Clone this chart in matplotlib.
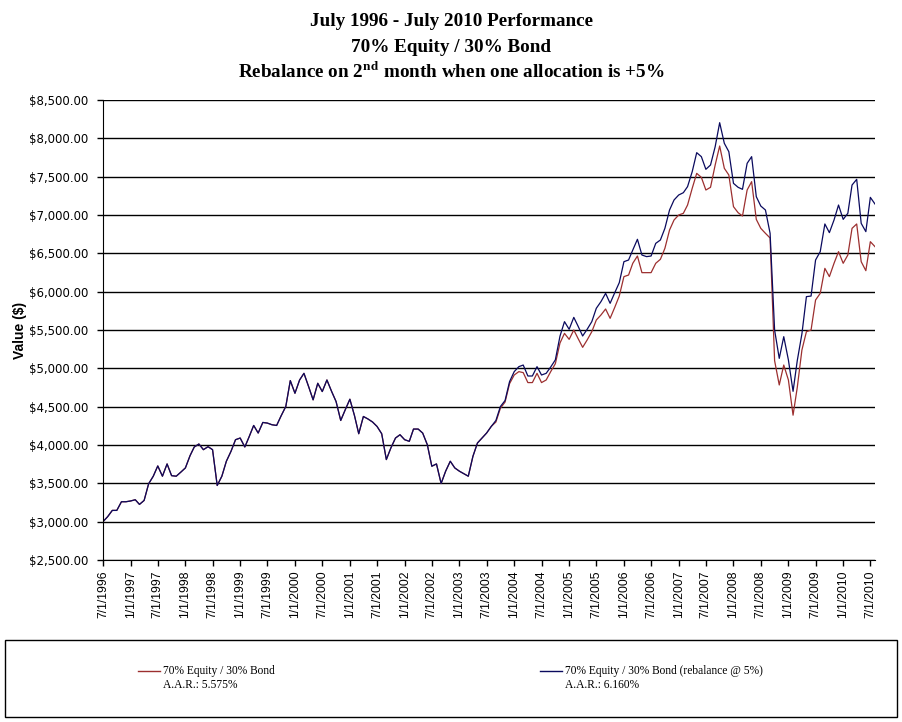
import matplotlib
matplotlib.use("Agg")
import matplotlib.pyplot as plt
from matplotlib.lines import Line2D
from matplotlib.patches import Rectangle
import numpy as np
import pandas as pd

# monthly values, 7/1/1996 onwards
rebalanced = [
    3000, 3065, 3147, 3147, 3260, 3260, 3270, 3286, 3225, 3277,
    3494, 3593, 3727, 3593, 3753, 3600, 3593, 3645, 3701, 3861,
    3974, 4013, 3939, 3978, 3939, 3472, 3593, 3788, 3918, 4069,
    4091, 3974, 4104, 4255, 4156, 4294, 4286, 4264, 4255, 4381,
    4502, 4840, 4675, 4848, 4935, 4762, 4589, 4805, 4697, 4848,
    4700, 4567, 4320, 4459, 4597, 4381, 4147, 4372, 4340, 4300,
    4242, 4147, 3810, 3961, 4091, 4134, 4069, 4048, 4208, 4208,
    4156, 4004, 3723, 3753, 3498, 3658, 3788, 3701, 3658, 3623,
    3593, 3853, 4026, 4091, 4156, 4242, 4320, 4502, 4580, 4827,
    4957, 5022, 5043, 4900, 4900, 5022, 4913, 4935, 5020, 5110,
    5420, 5609, 5509, 5665, 5552, 5422, 5509, 5609, 5783, 5870,
    5978, 5848, 5987, 6117, 6391, 6413, 6543, 6683, 6478, 6457,
    6465, 6630, 6674, 6826, 7065, 7196, 7261, 7291, 7370, 7565,
    7813, 7761, 7596, 7652, 7891, 8204, 7935, 7826, 7413, 7361,
    7335, 7674, 7761, 7239, 7117, 7065, 6761, 5500, 5130, 5413,
    5109, 4700, 5100, 5450, 5935, 5943, 6413, 6522, 6883, 6770,
    6935, 7130, 6943, 7022, 7391, 7465, 6891, 6783, 7230, 7143,
]

no_rebalance = rebalanced[:86] + [
    4300, 4480, 4560, 4800,
    4913, 4957, 4944, 4814, 4814, 4935, 4814, 4848, 4960, 5060,
    5330, 5456, 5378, 5500, 5391, 5274, 5370, 5478, 5630, 5696,
    5774, 5652, 5796, 5943, 6196, 6217, 6370, 6465, 6248, 6248,
    6248, 6370, 6422, 6565, 6804, 6935, 7000, 7022, 7130, 7348,
    7543, 7491, 7326, 7361, 7652, 7900, 7609, 7522, 7109, 7030,
    6987, 7326, 7435, 6943, 6826, 6761, 6700, 5100, 4783, 5043,
    4848, 4389, 4750, 5239, 5478, 5500, 5891, 5978, 6304, 6196,
    6370, 6522, 6370, 6478, 6826, 6883, 6391, 6274, 6652, 6587,
]

series_names = ["70% Equity / 30% Bond", "70% Equity / 30% Bond (rebalance @ 5%)"]
aar_labels = ["A.A.R.: 5.575%", "A.A.R.: 6.160%"]
y_ticks = np.arange(2500, 8501, 500)

dates = pd.date_range("1996-07-01", periods=len(rebalanced), freq="MS")
tick_dates = pd.date_range("1996-07-01", "2010-07-01", freq="6MS")
tick_labels = [f"{d.month}/{d.day}/{d.year}" for d in tick_dates]

red = "#9c2f2f"
navy = "#0a0a5e"

fig = plt.figure(figsize=(9.02, 7.22), dpi=100)
ax = fig.add_axes([103 / 902, 1 - 560 / 722, 772 / 902, 460 / 722])

ax.plot(dates, no_rebalance, color=red, lw=0.9)
ax.plot(dates, rebalanced, color=navy, lw=0.9)

ax.set_ylim(2500, 8500)
ax.set_yticks(y_ticks)
ax.set_yticklabels([f"${v:,.2f}" for v in y_ticks], family="DejaVu Sans", fontsize=8.5)
ax.set_xlim(dates[0], dates[-1])
ax.set_xticks(tick_dates)
ax.set_xticklabels(tick_labels, rotation=90, family="Liberation Sans", fontsize=8.7)
ax.grid(axis="y", color="black", lw=1)
ax.set_axisbelow(True)
ax.tick_params(axis="y", direction="out", length=4.5, width=1, pad=6, colors="black")
ax.tick_params(axis="x", direction="out", length=4, width=1, pad=3.5, colors="black")
for side in ["top", "right"]:
    ax.spines[side].set_visible(False)
ax.set_ylabel("Value ($)", family="Liberation Sans", fontsize=10, fontweight="bold", labelpad=1.5)

# titles
title_kw = dict(ha="center", va="center", family="Liberation Serif", fontweight="bold", fontsize=13.8)
fig.text(0.5, 1 - 22 / 722, "July 1996 - July 2010 Performance", **title_kw)
fig.text(0.5, 1 - 47 / 722, "70% Equity / 30% Bond", **title_kw)
plt.rcParams["mathtext.fontset"] = "stix"
fig.text(0.5, 1 - 72 / 722, r"Rebalance on 2$^{\mathbf{nd}}$ month when one allocation is +5%", **title_kw)

# legend box under the chart
fig.add_artist(Rectangle((5 / 902, 1 - 717 / 722), 892 / 902, 77 / 722,
                         transform=fig.transFigure, fill=False, ec="black", lw=1))
for x0, color, name, aar in [(138, red, series_names[0], aar_labels[0]),
                             (540, navy, series_names[1], aar_labels[1])]:
    fig.add_artist(Line2D([x0 / 902, (x0 + 22) / 902], [1 - 671 / 722] * 2,
                          transform=fig.transFigure, color=color, lw=1))
    fig.text((x0 + 25) / 902, 1 - 671 / 722, name, va="center",
             family="Liberation Serif", fontsize=8.3)
    fig.text((x0 + 25) / 902, 1 - 685 / 722, aar, va="center",
             family="Liberation Serif", fontsize=8.3)

fig.savefig("out.png", dpi=100)
